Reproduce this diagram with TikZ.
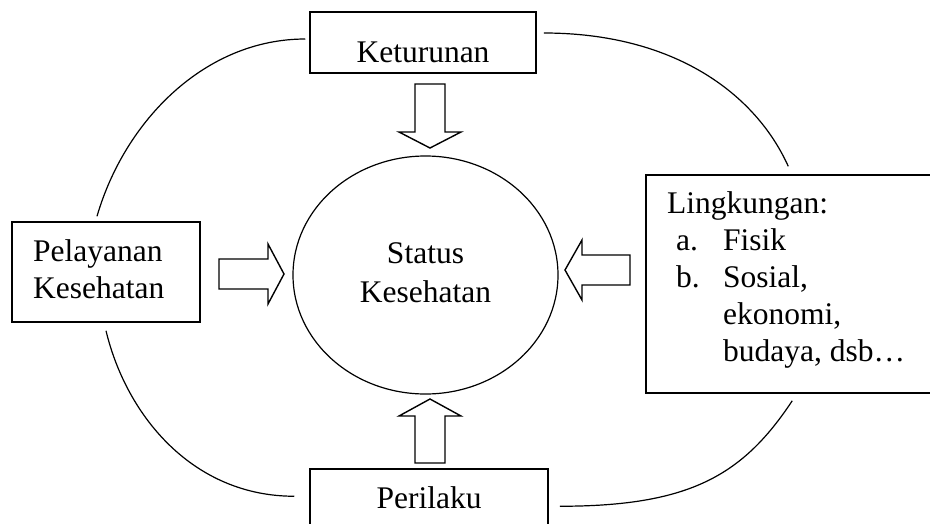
\documentclass[tikz,border=0pt]{standalone}
\usepackage{fontspec}
\setmainfont{Liberation Serif}
\usetikzlibrary{shapes.geometric}
\tikzset{
  box/.style={draw, line width=1.5pt, inner sep=0pt},
  txt/.style={font=\fontsize{31.5}{37}\selectfont, inner sep=0pt},
  link/.style={line width=1.2pt},
  barrow/.style={line width=1.4pt, line join=miter},
}
\begin{document}
\begin{tikzpicture}[x=1pt,y=-1pt]
\useasboundingbox (0,0) rectangle (930,523);
% boxes and centre
\node[box, minimum width=226pt, minimum height=61pt] (ket) at (423,42.5) {};
\node[box, minimum width=188pt, minimum height=100pt] (pel) at (106,272) {};
\node[box, minimum width=289pt, minimum height=218pt] (ling) at (790.5,284) {};
\node[box, minimum width=238pt, minimum height=66pt] (peri) at (429,502) {};
\node[draw, ellipse, line width=1.2pt, inner sep=0pt, minimum width=265pt, minimum height=238pt] (status) at (425.5,275) {};
% texts (base = last line)
\node[txt, anchor=base] (kettext) at (423,62) {Keturunan};
\node[txt, anchor=base west, align=left] (peltext) at (33,298) {Pelayanan\\Kesehatan};
\node[txt, anchor=base, align=center] (stattext) at (425.5,302) {Status\\[1.5pt]Kesehatan};
\node[txt, anchor=base west, align=left] (lingtext) at (667,361) {Lingkungan:\\
  \hspace*{9pt}\makebox[47pt][l]{a.}Fisik\\
  \hspace*{9pt}\makebox[47pt][l]{b.}Sosial,\\
  \hspace*{56pt}ekonomi,\\
  \hspace*{56pt}budaya, dsb…};
\node[txt, anchor=base] (peritext) at (429,508) {Perilaku};
% block arrows
\draw[barrow] (415,84) -- (445,84) -- (445,132) -- (461,132) -- (430,148) -- (399,132) -- (415,132) -- cycle;
\draw[barrow] (415,463) -- (445,463) -- (445,416) -- (461,416) -- (430,399) -- (399,416) -- (415,416) -- cycle;
\draw[barrow] (219,259) -- (268,259) -- (268,244) -- (284,274) -- (268,304) -- (268,289) -- (219,289) -- cycle;
\draw[barrow] (630,255) -- (582,255) -- (582,240) -- (565,270) -- (582,300) -- (582,285) -- (630,285) -- cycle;
% outer arcs
\draw[link] ([shift={(-4,-3.5)}]ket.west) .. controls +(-100,0) and +(28,-96) .. ([shift={(-9,-5)}]pel.north);
\draw[link] ([shift={(7,-9.5)}]ket.east) .. controls +(130,0) and +(-33,-73) .. ([shift={(143,-8)}]ling.north west);
\draw[link] ([shift={(0,8)}]pel.south) .. controls +(21,87) and +(-100,0) .. ([shift={(-15,28)}]peri.north west);
\draw[link] ([shift={(11,38)}]peri.north east) .. controls +(130,0) and +(-49.5,74.7) .. ([shift={(147,7)}]ling.south west);
\end{tikzpicture}
\end{document}
